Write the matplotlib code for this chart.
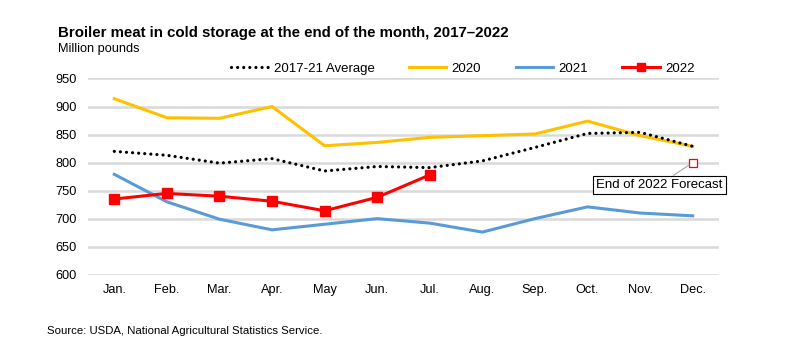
import matplotlib
matplotlib.use("Agg")
import matplotlib.pyplot as plt

plt.rcParams['font.family'] = ['Liberation Sans', 'DejaVu Sans']

months = ['Jan.', 'Feb.', 'Mar.', 'Apr.', 'May', 'Jun.', 'Jul.', 'Aug.', 'Sep.', 'Oct.', 'Nov.', 'Dec.']
avg_17_21 = [820, 813, 799, 807, 785, 793, 791, 803, 827, 852, 854, 829]
y2020 = [914, 880, 879, 900, 830, 836, 845, 848, 851, 874, 848, 829]
y2021 = [779, 730, 699, 680, 690, 700, 692, 676, 700, 721, 710, 705]
y2022 = [735, 745, 740, 731, 714, 738, 778]
forecast_2022 = 800
yticks = [600, 650, 700, 750, 800, 850, 900, 950]

x = list(range(len(months)))

fig = plt.figure(figsize=(7.88, 3.56), dpi=100)
ax = fig.add_axes([0.1117, 0.2284, 0.8007, 0.5511])

ax.plot(x, avg_17_21, color='black', linestyle=(0, (0.01, 1.9)), linewidth=2.3,
        dash_capstyle='round', label='2017-21 Average', zorder=4)
ax.plot(x, y2020, color='#FFC000', linewidth=2.2, label='2020', zorder=3)
ax.plot(x, y2021, color='#5B9BD5', linewidth=2.2, label='2021', zorder=3)
ax.plot(x[:len(y2022)], y2022, color='#FF0000', linewidth=2.2, marker='s',
        markersize=6.5, label='2022', zorder=5)
ax.plot([x[-1]], [forecast_2022], marker='s', markersize=6, markerfacecolor='white',
        markeredgecolor='#FF0000', markeredgewidth=0.9, linestyle='none', zorder=6)

ax.annotate('End of 2022 Forecast', xy=(x[-1], forecast_2022), xytext=(10.36, 760),
            ha='center', va='center', fontsize=9.5,
            bbox=dict(boxstyle='square,pad=0.25', facecolor='white', edgecolor='black', linewidth=0.8),
            arrowprops=dict(arrowstyle='-', color='#A6A6A6', linewidth=0.8, shrinkA=0, shrinkB=3),
            zorder=7)

ax.set_xlim(-0.5, len(months) - 0.5)
ax.set_ylim(600, 950)
ax.set_yticks(yticks)
ax.set_xticks(x)
ax.set_xticklabels(months)
ax.tick_params(axis='both', length=0, labelsize=9.2)
ax.tick_params(axis='x', pad=7)
ax.tick_params(axis='y', pad=8)
ax.grid(axis='y', color='#D9D9D9', linewidth=1.8)
ax.set_axisbelow(True)
for s in ax.spines.values():
    s.set_visible(False)

ax.legend(loc='lower center', bbox_to_anchor=(0.594, 1.005), ncol=4, frameon=False,
          fontsize=9.5, handlelength=2.85, columnspacing=2.6, handletextpad=0.4,
          borderaxespad=0, borderpad=0.2, markerscale=0.85)

fig.text(0.0736, 0.907, 'Broiler meat in cold storage at the end of the month, 2017\u20132022',
         fontsize=10.8, fontweight='bold', va='center')
fig.text(0.0736, 0.862, 'Million pounds', fontsize=9.2, va='center')
fig.text(0.0596, 0.070, 'Source: USDA, National Agricultural Statistics Service.',
         fontsize=8.2, va='center')

fig.savefig('out.png', dpi=100)
